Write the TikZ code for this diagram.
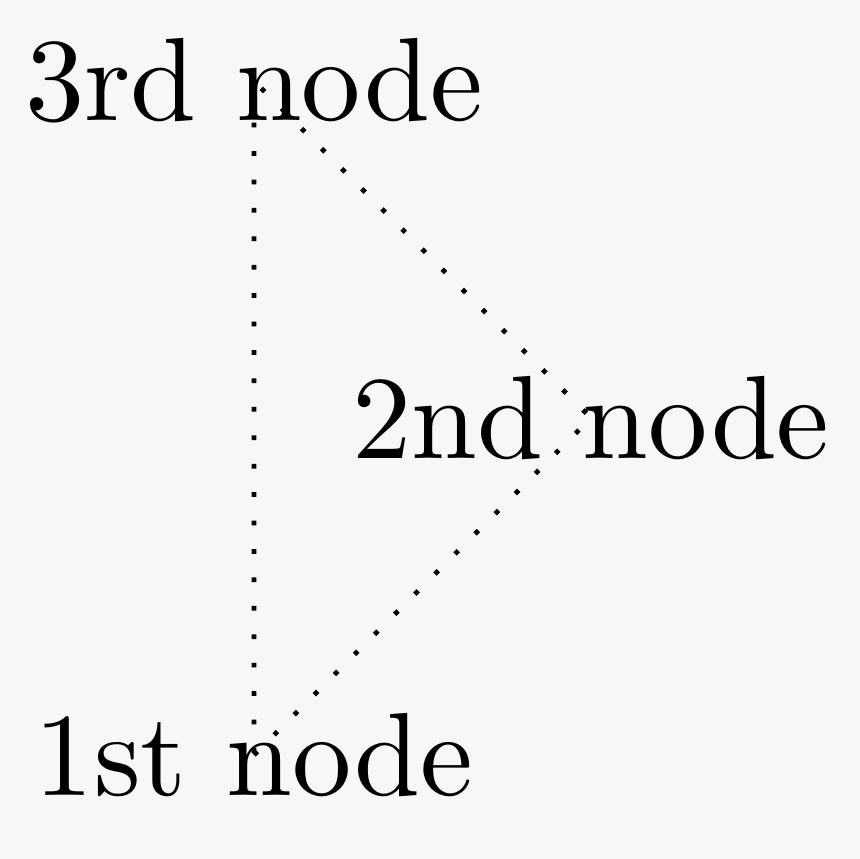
\documentclass[tikz,border=0pt]{standalone}
\definecolor{bgc}{HTML}{F7F7F7}
\begin{document}
\begin{tikzpicture}[x=1cm,y=1cm, conn/.style={dotted}]
\fill[bgc] (-0.7537,-0.3086) rectangle (1.7982,2.2404);
\useasboundingbox (-0.7537,-0.3086) rectangle (1.7982,2.2404);
\node (a) at (0,0) {1st node};
\node (b) at (1,1) {2nd node};
\node (c) at (0,2) {3rd node};
\draw[conn] (a.center) -- (b.center) -- (c.center) -- (a.center);
\end{tikzpicture}
\end{document}
